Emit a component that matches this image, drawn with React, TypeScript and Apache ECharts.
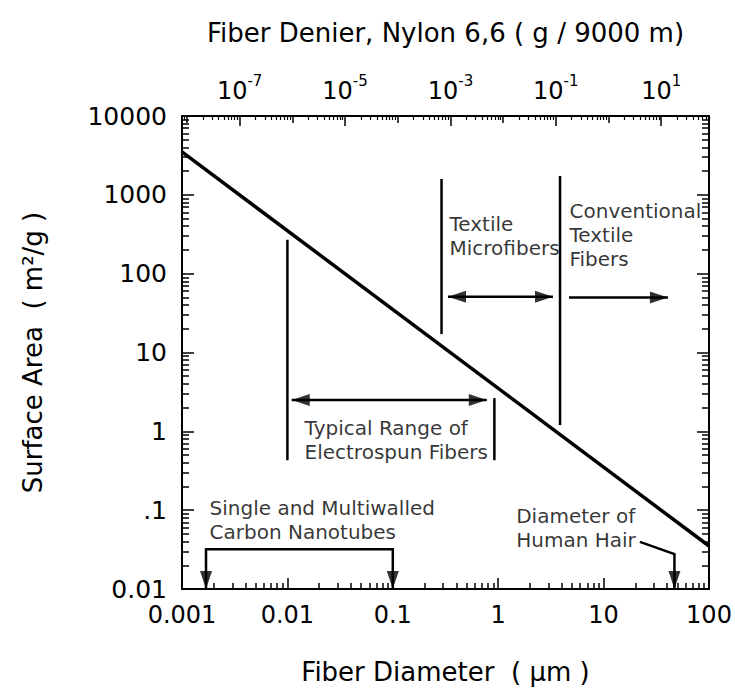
import React, { useEffect, useRef } from 'react';
import * as echarts from 'echarts';

// Axis ranges
const X_MIN = 0.001;
const X_MAX = 100;
const Y_MIN = 0.01;
const Y_MAX = 10000;
// Nylon 6,6 denier at the diameter range ends (g / 9000 m)
const DENIER_MIN = 8.06e-9;
const DENIER_MAX = 80.6;

// Tick values
const xMajor = [0.001, 0.01, 0.1, 1, 10, 100];
const yMajor = [0.01, 0.1, 1, 10, 100, 1000, 10000];
const denierLabeled = [1e-7, 1e-5, 1e-3, 1e-1, 10];
const denierDecades = [1e-8, 1e-6, 1e-4, 1e-2, 1];

// Main curve: surface area vs fiber diameter
const fiberDiameter = [0.001, 100];
const surfaceArea = [3509, 0.03509];

// Annotation line segments (data coordinates: diameter, surface area)
const segElectrospunLeft = [[0.01, 270], [0.01, 0.43]];
const segElectrospunRight = [[0.92, 2.64], [0.92, 0.43]];
const segElectrospunArrow = [[0.011, 2.49], [0.78, 2.49]];
const segMicroLeft = [[0.29, 1585], [0.29, 17.1]];
const segConventional = [[3.86, 1734], [3.86, 1.2]];
const segMicroArrow = [[0.334, 51], [3.31, 51]];
const segConventionalArrow = [[4.7, 50], [40.8, 50]];
const segNanotubes = [[0.00169, 0.01], [0.00169, 0.032], [0.1, 0.032], [0.1, 0.01]];
const segHair = [[22.1, 0.0396], [47, 0.0277], [47, 0.01]];

// Arrow heads: [diameter, surface area, direction]
const arrowHeads: [number, number, string][] = [
  [0.011, 2.49, 'left'],
  [0.78, 2.49, 'right'],
  [0.334, 51, 'left'],
  [3.31, 51, 'right'],
  [40.8, 50, 'right'],
  [0.00169, 0.01, 'down'],
  [0.1, 0.01, 'down'],
  [47, 0.01, 'down'],
];

// Text annotations: [diameter, surface area (top-left anchor), text]
const notes: [number, number, string][] = [
  [0.0147, 1.56, 'Typical Range of\nElectrospun Fibers'],
  [0.349, 605, 'Textile\nMicrofibers'],
  [4.8, 885, 'Conventional\nTextile\nFibers'],
  [0.001845, 0.1507, 'Single and Multiwalled\nCarbon Nanotubes'],
  [1.498, 0.1167, 'Diameter of\nHuman Hair'],
];

const FONT = 'DejaVu Sans';

function minorTicks(min: number, max: number): number[] {
  const out: number[] = [];
  const e0 = Math.floor(Math.log10(min));
  const e1 = Math.ceil(Math.log10(max));
  for (let e = e0; e <= e1; e++) {
    for (let m = 2; m <= 9; m++) {
      const v = m * Math.pow(10, e);
      if (v > min * 1.0001 && v < max * 0.9999) out.push(v);
    }
  }
  return out;
}

function expOf(v: number) {
  return Math.round(Math.log10(v));
}

function fmtDec(v: number) {
  const e = expOf(v);
  return e < 0 ? Math.pow(10, e).toFixed(-e) : String(Math.pow(10, e));
}

export default function App() {
  const ref = useRef<HTMLDivElement>(null);

  useEffect(() => {
    if (!ref.current) return;
    const chart = echarts.init(ref.current, null, { renderer: 'svg' });
    const black = '#000';
    const axisLine = { show: true, lineStyle: { color: black, width: 2 } };
    const noLine = { show: false };
    const tick = (values: number[], length: number, width = 1.5) => ({
      show: true,
      inside: true,
      length,
      customValues: values,
      lineStyle: { color: black, width },
    });
    const noLabel = { show: false };

    const dirRot: Record<string, number> = { left: 90, right: -90, down: 180, up: 0 };
    const dirOff: Record<string, [number, number]> = {
      left: [9, 0],
      right: [-9, 0],
      down: [0, -9],
      up: [0, 9],
    };

    const segStyle = { color: black, width: 2.5, opacity: 1 };

    chart.setOption({
      animation: false,
      backgroundColor: '#fff',
      grid: { left: 182, top: 116, right: 26, bottom: 106, containLabel: false },
      xAxis: [
        {
          type: 'log',
          position: 'bottom',
          min: X_MIN,
          max: X_MAX,
          axisLine,
          axisTick: tick(xMajor, 11),
          axisLabel: {
            customValues: xMajor,
            formatter: (v: number) => fmtDec(v),
            fontSize: 24,
            fontFamily: FONT,
            color: black,
            margin: 14,
          },
          splitLine: { show: false },
          name: 'Fiber Diameter  ( \u03bcm )',
          nameLocation: 'middle',
          nameGap: 70,
          nameTextStyle: { fontSize: 26, fontFamily: FONT, color: black },
        },
        {
          type: 'log',
          position: 'bottom',
          min: X_MIN,
          max: X_MAX,
          axisLine: noLine,
          axisTick: tick(minorTicks(X_MIN, X_MAX), 6),
          axisLabel: noLabel,
          splitLine: { show: false },
        },
        {
          type: 'log',
          position: 'top',
          min: DENIER_MIN,
          max: DENIER_MAX,
          axisLine,
          axisTick: tick(denierLabeled, 10),
          axisLabel: {
            customValues: denierLabeled,
            formatter: (v: number) => `{b|10}{s|${expOf(v)}}`,
            color: black,
            margin: 8,
            rich: {
              b: { fontSize: 24, fontFamily: FONT, color: black },
              s: { fontSize: 15, fontFamily: FONT, color: black, padding: [0, 0, 20, 0] },
            },
          },
          splitLine: { show: false },
          name: 'Fiber Denier, Nylon 6,6 ( g / 9000 m)',
          nameLocation: 'middle',
          nameGap: 70,
          nameTextStyle: { fontSize: 26, fontFamily: FONT, color: black },
        },
        {
          type: 'log',
          position: 'top',
          min: DENIER_MIN,
          max: DENIER_MAX,
          axisLine: noLine,
          axisTick: tick(denierDecades, 7),
          axisLabel: noLabel,
          splitLine: { show: false },
        },
        {
          type: 'log',
          position: 'top',
          min: DENIER_MIN,
          max: DENIER_MAX,
          axisLine: noLine,
          axisTick: tick(minorTicks(DENIER_MIN, DENIER_MAX), 4, 1.2),
          axisLabel: noLabel,
          splitLine: { show: false },
        },
      ],
      yAxis: [
        {
          type: 'log',
          position: 'left',
          min: Y_MIN,
          max: Y_MAX,
          axisLine,
          axisTick: tick(yMajor, 12),
          axisLabel: {
            customValues: yMajor,
            formatter: (v: number) => (expOf(v) === -1 ? '.1' : fmtDec(v)),
            fontSize: 25,
            fontFamily: FONT,
            color: black,
            margin: 15,
          },
          splitLine: { show: false },
          name: 'Surface Area  ( m\u00b2/g )',
          nameLocation: 'middle',
          nameGap: 136,
          nameTextStyle: { fontSize: 26, fontFamily: FONT, color: black },
        },
        {
          type: 'log',
          position: 'left',
          min: Y_MIN,
          max: Y_MAX,
          axisLine: noLine,
          axisTick: tick(minorTicks(Y_MIN, Y_MAX), 7),
          axisLabel: noLabel,
          splitLine: { show: false },
        },
        {
          type: 'log',
          position: 'right',
          min: Y_MIN,
          max: Y_MAX,
          axisLine,
          axisTick: tick(yMajor, 12),
          axisLabel: noLabel,
          splitLine: { show: false },
        },
        {
          type: 'log',
          position: 'right',
          min: Y_MIN,
          max: Y_MAX,
          axisLine: noLine,
          axisTick: tick(minorTicks(Y_MIN, Y_MAX), 7),
          axisLabel: noLabel,
          splitLine: { show: false },
        },
      ],
      series: [
        {
          type: 'line',
          xAxisIndex: 0,
          yAxisIndex: 0,
          data: fiberDiameter.map((d, i) => [d, surfaceArea[i]]),
          showSymbol: false,
          lineStyle: { color: black, width: 3.5 },
          silent: true,
          clip: true,
        },
        {
          type: 'lines',
          coordinateSystem: 'cartesian2d',
          xAxisIndex: 0,
          yAxisIndex: 0,
          polyline: true,
          silent: true,
          lineStyle: segStyle,
          data: [
            segElectrospunLeft,
            segElectrospunRight,
            segElectrospunArrow,
            segMicroLeft,
            segConventional,
            segMicroArrow,
            segConventionalArrow,
            segNanotubes,
            segHair,
          ].map((coords) => ({ coords })),
        },
        {
          type: 'scatter',
          xAxisIndex: 0,
          yAxisIndex: 0,
          silent: true,
          clip: false,
          symbol: 'triangle',
          symbolSize: [12, 18],
          itemStyle: { color: black },
          data: arrowHeads.map(([x, y, dir]) => ({
            value: [x, y],
            symbolRotate: dirRot[dir],
            symbolOffset: dirOff[dir],
          })),
        },
        {
          type: 'scatter',
          xAxisIndex: 0,
          yAxisIndex: 0,
          silent: true,
          clip: false,
          symbolSize: 1,
          itemStyle: { color: 'rgba(0,0,0,0)' },
          label: {
            show: true,
            position: [0, 0],
            align: 'left',
            verticalAlign: 'top',
            fontSize: 20,
            lineHeight: 24,
            fontFamily: FONT,
            color: black,
            formatter: (p: any) => p.data.text,
          },
          data: notes.map(([x, y, text]) => ({ value: [x, y], text })),
        },
      ],
    });
    return () => chart.dispose();
  }, []);

  return (
    <div
      ref={ref}
      style={{ position: 'absolute', left: 0, top: 0, width: 735, height: 695 }}
    />
  );
}
